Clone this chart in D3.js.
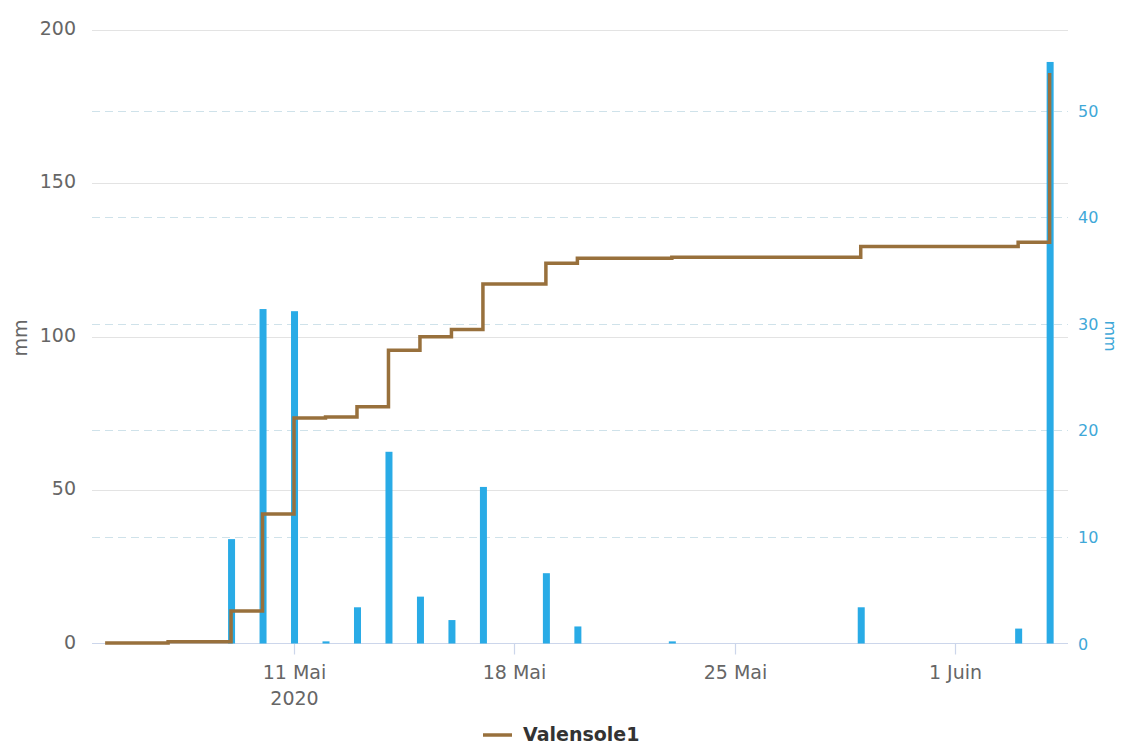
<!DOCTYPE html>
<html>
<head>
<meta charset="utf-8">
<script src="https://cdn.jsdelivr.net/npm/d3@7"></script>
<style>
html,body{margin:0;padding:0;background:#fff;}
svg{display:block;font-family:"DejaVu Sans",sans-serif;}
</style>
</head>
<body>
<svg id="chart" width="1121" height="745"></svg>
<script>
// ---- Data ----
const dates = ["2020-05-05","2020-05-06","2020-05-07","2020-05-08","2020-05-09","2020-05-10","2020-05-11","2020-05-12","2020-05-13","2020-05-14","2020-05-15","2020-05-16","2020-05-17","2020-05-18","2020-05-19","2020-05-20","2020-05-21","2020-05-22","2020-05-23","2020-05-24","2020-05-25","2020-05-26","2020-05-27","2020-05-28","2020-05-29","2020-05-30","2020-05-31","2020-06-01","2020-06-02","2020-06-03","2020-06-04"];
const dailyRain = [0,0,0,0,9.8,31.4,31.2,0.2,3.4,18.0,4.4,2.2,14.7,0,6.6,1.6,0,0,0.2,0,0,0,0,0,3.4,0,0,0,0,1.4,54.6];
const cumulative = [0.2,0.2,0.6,0.6,10.6,42.2,73.5,73.8,77.2,95.6,100.0,102.4,117.2,117.2,124.0,125.6,125.6,125.6,125.9,125.9,125.9,125.9,125.9,125.9,129.4,129.4,129.4,129.4,129.4,130.8,186.0];
const leftTicks = [0,50,100,150,200];
const rightTicks = [0,10,20,30,40,50];
const xTickDates = ["2020-05-11","2020-05-18","2020-05-25","2020-06-01"];
const xTickLabels = [["11 Mai","2020"],["18 Mai"],["25 Mai"],["1 Juin"]];
const seriesName = "Valensole1";
const axisTitle = "mm";

// ---- Layout ----
const svg = d3.select("#chart");
const pLeft = 92, pRight = 1068, pTop = 30, pBottom = 643.5;
const parse = d => { const [y,m,dd] = d.split("-").map(Number); return new Date(y, m-1, dd); };
const pts = dates.map((d,i) => ({date: parse(d), rain: dailyRain[i], cum: cumulative[i]}));

const x = d3.scaleTime()
  .domain([new Date(2020,4,4,14), new Date(2020,5,4,14)])
  .range([pLeft, pRight]);
const yL = d3.scaleLinear().domain([0,200]).range([pBottom, pTop]);
const yR = d3.scaleLinear().domain([0,57.6]).range([pBottom, pTop]);

const lineColor = "#98703c";
const barColor = "#29abe6";

// left solid gridlines
svg.append("g").selectAll("line").data(leftTicks.filter(t=>t>0)).join("line")
  .attr("x1", pLeft).attr("x2", pRight)
  .attr("y1", d => Math.round(yL(d))+0.5).attr("y2", d => Math.round(yL(d))+0.5)
  .attr("stroke", "#e3e3e3").attr("stroke-width", 1.2);

// right dashed gridlines
svg.append("g").selectAll("line").data(rightTicks.filter(t=>t>0)).join("line")
  .attr("x1", pLeft).attr("x2", pRight)
  .attr("y1", d => Math.round(yR(d))+0.5).attr("y2", d => Math.round(yR(d))+0.5)
  .attr("stroke", "#cfe2ea").attr("stroke-width", 1.2).attr("stroke-dasharray", "8,5");

// x axis line and ticks
svg.append("line").attr("x1", pLeft).attr("x2", pRight).attr("y1", pBottom).attr("y2", pBottom)
  .attr("stroke", "#ccd6eb").attr("stroke-width", 1.2);
const xt = svg.append("g");
xTickDates.forEach((d,i) => {
  const px = Math.round(x(parse(d)))+0.5;
  xt.append("line").attr("x1", px).attr("x2", px).attr("y1", pBottom).attr("y2", pBottom+11)
    .attr("stroke", "#ccd6eb").attr("stroke-width", 1.2);
  xTickLabels[i].forEach((t,j) => {
    xt.append("text").attr("x", px).attr("y", 679 + j*26)
      .attr("text-anchor", "middle").attr("font-size", 19).attr("fill", "#666").text(t);
  });
});

// left tick labels
svg.append("g").selectAll("text").data(leftTicks).join("text")
  .attr("x", 76).attr("y", d => yL(d) + 5)
  .attr("text-anchor", "end").attr("font-size", 19).attr("fill", "#666").text(d => d);

// right tick labels
svg.append("g").selectAll("text").data(rightTicks).join("text")
  .attr("x", 1078).attr("y", d => yR(d) + 6)
  .attr("text-anchor", "start").attr("font-size", 16).attr("fill", "#3fa8d8").text(d => d);

// axis titles
svg.append("text").attr("transform", "translate(27,338) rotate(-90)")
  .attr("text-anchor", "middle").attr("font-size", 19).attr("fill", "#666").text(axisTitle);
svg.append("text").attr("transform", "translate(1105,336) rotate(90)")
  .attr("text-anchor", "middle").attr("font-size", 16).attr("fill", "#3fa8d8").text(axisTitle);

// bars
const bw = 7;
svg.append("g").selectAll("rect").data(pts.filter(p => p.rain > 0)).join("rect")
  .attr("x", p => x(p.date) + 0.5 - bw/2)
  .attr("y", p => yR(p.rain))
  .attr("width", bw)
  .attr("height", p => Math.max(1.5, pBottom - yR(p.rain)))
  .attr("fill", barColor);

// cumulative step line
const line = d3.line().x(p => x(p.date)).y(p => yL(p.cum)).curve(d3.curveStepAfter);
svg.append("path").datum(pts).attr("d", line)
  .attr("fill", "none").attr("stroke", lineColor).attr("stroke-width", 3.5)
  .attr("stroke-linejoin", "miter");

// legend
svg.append("line").attr("x1", 483).attr("x2", 512).attr("y1", 735).attr("y2", 735)
  .attr("stroke", lineColor).attr("stroke-width", 3.5);
svg.append("text").attr("x", 523).attr("y", 741).attr("font-size", 19)
  .attr("font-weight", "bold").attr("fill", "#333").text(seriesName);
</script>
</body>
</html>
